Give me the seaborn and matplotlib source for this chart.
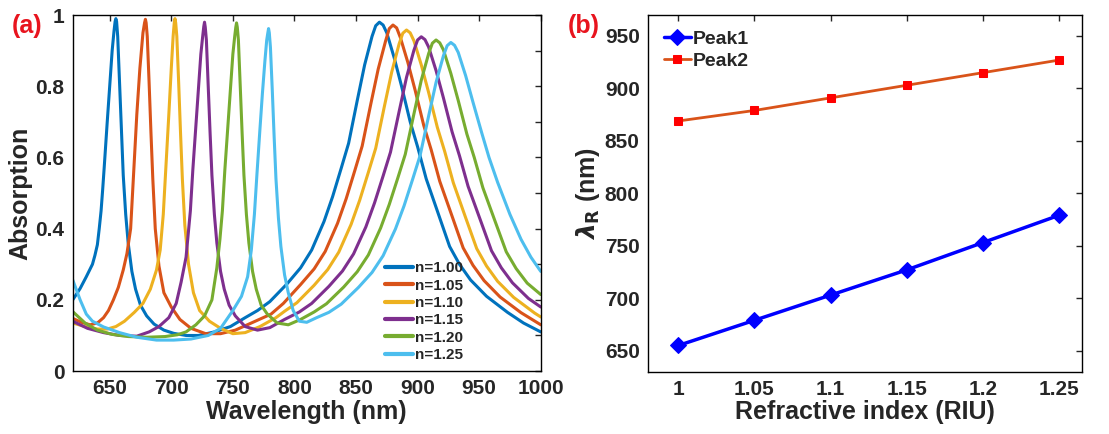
import numpy as np
import pandas as pd
import matplotlib
matplotlib.use('Agg')
import matplotlib.pyplot as plt
import seaborn as sns

# absorption spectra, one list pair per refractive index
wl_100 = [620, 626, 631, 636, 638, 640, 641.5, 643, 644.3, 645.5, 648, 650, 652, 653.5, 654.4, 655, 655.6, 656.5, 658, 659.5,
          661, 663, 665, 668, 671, 675, 680, 686, 694, 702, 712, 722, 735, 748, 760, 770, 780, 794, 805, 814,
          824, 831, 838, 844, 851, 857, 863, 866, 869, 872, 875, 881, 887, 894, 900, 907, 917, 926, 934, 943,
          956, 973, 986, 1000]
abs_100 = [0.20, 0.232, 0.265, 0.30, 0.325, 0.355, 0.40, 0.45, 0.51, 0.57, 0.70, 0.80, 0.90, 0.955, 0.982, 0.99, 0.982, 0.94, 0.81, 0.68,
           0.55, 0.44, 0.36, 0.28, 0.23, 0.185, 0.155, 0.132, 0.115, 0.106, 0.10, 0.10, 0.11, 0.125, 0.15, 0.17, 0.195, 0.245, 0.29, 0.34,
           0.42, 0.49, 0.57, 0.64, 0.76, 0.86, 0.94, 0.97, 0.98, 0.972, 0.95, 0.88, 0.80, 0.70, 0.63, 0.54, 0.44, 0.35, 0.30, 0.256,
           0.21, 0.165, 0.135, 0.11]

wl_105 = [620, 627, 634, 640, 645, 649, 653, 657, 661, 664, 667, 669.5, 672, 674.5, 677, 678.3, 679, 679.6, 680.5, 682,
          683.5, 685, 687, 690, 694, 700, 707, 716, 728, 740, 752, 765, 781, 791, 805, 816, 825, 835, 842, 849,
          855, 862, 868, 874, 877, 880, 883, 886, 892, 898, 905, 911, 918, 928, 937, 945, 954, 967, 984, 1000]
abs_105 = [0.148, 0.137, 0.13, 0.135, 0.15, 0.17, 0.20, 0.235, 0.284, 0.33, 0.40, 0.56, 0.72, 0.85, 0.95, 0.978, 0.988, 0.978, 0.94, 0.81,
           0.67, 0.54, 0.40, 0.295, 0.22, 0.18, 0.145, 0.12, 0.105, 0.105, 0.115, 0.135, 0.16, 0.19, 0.243, 0.287, 0.336, 0.415, 0.484, 0.563,
           0.632, 0.75, 0.848, 0.927, 0.962, 0.972, 0.964, 0.937, 0.868, 0.789, 0.69, 0.622, 0.533, 0.435, 0.346, 0.297, 0.254, 0.208, 0.164, 0.13]

wl_110 = [620, 630, 640, 648, 655, 662, 670, 677, 683, 688, 691, 693.5, 695.5, 698, 700, 701.5, 702.4, 703, 703.6, 704.5,
          706, 707.5, 709, 711, 714, 718, 723, 731, 740, 750, 760, 772, 785, 792, 802, 816, 827, 836, 846, 853,
          860, 866, 873, 879, 885, 888, 891, 894, 897, 903, 909, 916, 922, 929, 939, 948, 956, 965, 978, 995, 1000]
abs_110 = [0.135, 0.125, 0.118, 0.118, 0.125, 0.14, 0.165, 0.19, 0.23, 0.284, 0.34, 0.44, 0.565, 0.72, 0.85, 0.94, 0.978, 0.99, 0.978, 0.94,
           0.81, 0.67, 0.54, 0.41, 0.30, 0.22, 0.17, 0.14, 0.12, 0.105, 0.108, 0.125, 0.15, 0.168, 0.192, 0.241, 0.285, 0.334, 0.412, 0.48,
           0.558, 0.626, 0.743, 0.84, 0.919, 0.949, 0.958, 0.95, 0.928, 0.86, 0.782, 0.685, 0.617, 0.529, 0.431, 0.344, 0.295, 0.252, 0.207, 0.163, 0.152]

wl_115 = [620, 632, 645, 658, 672, 682, 690, 698, 704, 708, 712, 715.5, 717.5, 720, 722, 724, 725.5, 726.4, 727, 727.6,
          728.5, 730, 731.5, 733, 735, 737, 740, 743, 747, 752, 760, 770, 780, 792, 804, 814, 828, 839, 848, 858,
          865, 872, 878, 885, 891, 897, 900, 903, 906, 909, 915, 921, 928, 934, 941, 951, 960, 968, 977, 990, 1000]
abs_115 = [0.14, 0.12, 0.108, 0.10, 0.098, 0.11, 0.125, 0.15, 0.19, 0.25, 0.32, 0.45, 0.565, 0.69, 0.79, 0.89, 0.94, 0.968, 0.98, 0.966,
           0.93, 0.80, 0.67, 0.55, 0.44, 0.36, 0.28, 0.23, 0.185, 0.155, 0.125, 0.115, 0.122, 0.145, 0.166, 0.19, 0.238, 0.281, 0.329, 0.405,
           0.472, 0.548, 0.615, 0.729, 0.825, 0.901, 0.93, 0.939, 0.931, 0.91, 0.844, 0.767, 0.672, 0.605, 0.519, 0.424, 0.338, 0.29, 0.248, 0.204, 0.18]

wl_120 = [620, 630, 640, 652, 665, 680, 695, 705, 712, 720, 727, 733, 737, 739.5, 741.5, 743.5, 746, 748, 750, 751.5,
          752.4, 753, 753.6, 754.5, 756, 757.5, 759, 761, 763, 766, 769, 773, 778, 786, 795, 805, 816, 826, 840, 851,
          860, 870, 877, 884, 890, 897, 903, 909, 912, 915, 918, 921, 927, 933, 940, 946, 953, 963, 972, 980, 989, 1000]
abs_120 = [0.167, 0.135, 0.115, 0.103, 0.097, 0.095, 0.097, 0.102, 0.11, 0.13, 0.155, 0.20, 0.29, 0.37, 0.45, 0.565, 0.69, 0.79, 0.89, 0.94,
           0.966, 0.978, 0.966, 0.93, 0.80, 0.67, 0.55, 0.44, 0.36, 0.28, 0.23, 0.185, 0.16, 0.135, 0.13, 0.145, 0.166, 0.189, 0.236, 0.279,
           0.326, 0.402, 0.468, 0.543, 0.609, 0.722, 0.817, 0.892, 0.921, 0.930, 0.922, 0.902, 0.836, 0.76, 0.666, 0.60, 0.515, 0.42, 0.335, 0.288,
           0.247, 0.215]

wl_125 = [620, 626, 631, 636, 645, 658, 672, 688, 702, 716, 730, 740, 750, 757, 762, 765, 767.5, 769.5, 772, 774,
          776, 777.5, 778.4, 779, 779.6, 780.5, 782, 783.5, 785, 787, 789, 792, 795, 799, 804, 810, 818, 828, 838, 852,
          863, 872, 882, 889, 896, 902, 909, 915, 921, 924, 927, 930, 933, 939, 945, 952, 958, 965, 975, 984, 992, 1000]
abs_125 = [0.256, 0.20, 0.16, 0.14, 0.124, 0.108, 0.095, 0.087, 0.087, 0.09, 0.10, 0.12, 0.17, 0.21, 0.265, 0.34, 0.44, 0.55, 0.68, 0.78,
           0.87, 0.93, 0.95, 0.962, 0.95, 0.91, 0.79, 0.66, 0.54, 0.43, 0.35, 0.27, 0.22, 0.17, 0.14, 0.137, 0.15, 0.165, 0.188, 0.235,
           0.277, 0.324, 0.399, 0.464, 0.539, 0.605, 0.717, 0.811, 0.886, 0.914, 0.923, 0.915, 0.895, 0.83, 0.755, 0.67, 0.60, 0.53, 0.44, 0.37,
           0.32, 0.28]

n_labels = ['n=1.00', 'n=1.05', 'n=1.10', 'n=1.15', 'n=1.20', 'n=1.25']
curve_colors = ['#0072BD', '#D95319', '#EDB120', '#7E2F8E', '#77AC30', '#4DBEEE']

# panel (b): resonance position vs refractive index
ri = [1.00, 1.05, 1.10, 1.15, 1.20, 1.25]
peak1 = [655, 679, 703, 727, 753, 779]
peak2 = [869, 879, 891, 903, 915, 927]

sns.set_style('white')
plt.rcParams['font.family'] = ['Liberation Sans', 'DejaVu Sans']
plt.rcParams['font.weight'] = 'bold'
plt.rcParams['axes.labelweight'] = 'bold'
plt.rcParams['mathtext.fontset'] = 'dejavusans'
plt.rcParams['xtick.direction'] = 'in'
plt.rcParams['ytick.direction'] = 'in'

spectra = pd.concat([
    pd.DataFrame({'wl': w, 'A': a, 'n': lab})
    for w, a, lab in zip([wl_100, wl_105, wl_110, wl_115, wl_120, wl_125],
                         [abs_100, abs_105, abs_110, abs_115, abs_120, abs_125], n_labels)
], ignore_index=True)

fig = plt.figure(figsize=(11.09, 4.34), dpi=100)
ax_a = fig.add_axes([0.0656, 0.145, 0.422, 0.8203])
ax_b = fig.add_axes([0.5843, 0.1436, 0.391, 0.8218])

# ---- panel (a)
for lab, col in zip(n_labels, curve_colors):
    sub = spectra[spectra['n'] == lab]
    sns.lineplot(data=sub, x='wl', y='A', color=col, lw=2.2, sort=False, estimator=None, label=lab, ax=ax_a)

ax_a.set_xlim(620, 1000)
ax_a.set_ylim(0, 1)
ax_a.set_xticks(np.arange(650, 1001, 50))
ax_a.set_yticks(np.arange(0, 1.01, 0.1))
ax_a.set_yticklabels(['0', '', '0.2', '', '0.4', '', '0.6', '', '0.8', '', '1'])
ax_a.set_xlabel('Wavelength (nm)', fontsize=18, labelpad=1)
ax_a.set_ylabel('Absorption', fontsize=18, labelpad=2)
leg = ax_a.legend(loc='lower left', bbox_to_anchor=(0.645, -0.005), frameon=False, fontsize=11,
                  handlelength=1.8, handletextpad=0.15, labelspacing=0.22, borderpad=0.2)
for h in leg.get_lines():
    h.set_linewidth(3)
ax_a.text(-0.13, 1.003, '(a)', transform=ax_a.transAxes, color='#E8141E', fontsize=18,
          fontweight='bold', ha='left', va='top')

# ---- panel (b)
sns.lineplot(x=ri, y=peak1, color='#0000FF', lw=2.5, marker='D', markersize=8,
             markeredgecolor='#0000FF', label='Peak1', ax=ax_b)
sns.lineplot(x=ri, y=peak2, color='#D95319', lw=2, marker='s', markersize=6,
             markerfacecolor='#FF0000', markeredgecolor='#FF0000', label='Peak2', ax=ax_b)

ax_b.set_xlim(0.98, 1.265)
ax_b.set_ylim(630, 970)
ax_b.set_xticks(ri)
ax_b.set_xticklabels(['1', '1.05', '1.1', '1.15', '1.2', '1.25'])
ax_b.set_yticks(np.arange(650, 951, 50))
ax_b.set_xlabel('Refractive index (RIU)', fontsize=18, labelpad=1)
ax_b.set_ylabel(r'$\lambda_{\mathbf{R}}$ (nm)', fontsize=18, labelpad=2)
ax_b.legend(loc='upper left', bbox_to_anchor=(0.0, 1.0), frameon=False, fontsize=14,
            handlelength=1.4, handletextpad=0.1, labelspacing=0.2, borderpad=0.3)
ax_b.text(-0.184, 1.003, '(b)', transform=ax_b.transAxes, color='#E8141E', fontsize=18,
          fontweight='bold', ha='left', va='top')

for ax in (ax_a, ax_b):
    ax.tick_params(direction='in', length=4, width=1, top=True, right=True, labelsize=15, pad=6)
    for s in ax.spines.values():
        s.set_linewidth(1)
        s.set_color('black')
    for t in ax.get_xticklabels() + ax.get_yticklabels():
        t.set_fontweight('bold')

plt.savefig('out.png', dpi=100)
plt.close()
